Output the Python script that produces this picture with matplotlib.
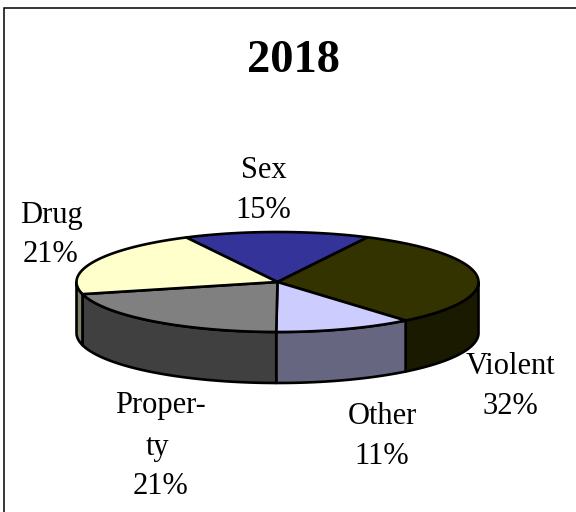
import numpy as np
import matplotlib
matplotlib.use("Agg")
import matplotlib.pyplot as plt
from matplotlib.patches import Polygon, Rectangle

title = "2018"
categories = ["Sex", "Violent", "Other", "Property", "Drug"]
values = [14.9, 31.6, 11.1, 21.0, 21.4]
label_lines = [["Sex", "15%"], ["Violent", "32%"], ["Other", "11%"], ["Proper-", "ty", "21%"], ["Drug", "21%"]]
top_colors = ["#333399", "#333300", "#CCCCFF", "#808080", "#FFFFCC"]
side_colors = ["#1A1A4D", "#1A1A00", "#666680", "#404040", "#808066"]
label_pos = [[(264, 171), (263, 211)], [(510, 367), (510, 407)], [(382, 416), (382, 457)],
             [(160, 405), (158, 447), (160, 487)], [(51, 215), (50, 254)]]

plt.rcParams['font.family'] = ['Liberation Serif', 'DejaVu Serif']
fig = plt.figure(figsize=(5.76, 5.12), dpi=100, facecolor="white")
ax = fig.add_axes([0, 0, 1, 1])
ax.set_xlim(0, 576)
ax.set_ylim(512, 0)
ax.axis("off")

# chart frame: its right and bottom edges lie outside the picture
ax.add_patch(Rectangle((4, 7.5), 600, 540, fc="white", ec="black", lw=1.1, clip_on=True))

cx, cy, rx, ry, depth = 277.5, 282, 201, 50, 51
start = -27.0


def rim(a, b):
    t = np.radians(np.linspace(a, b, max(2, int(abs(b - a)) + 2)))
    return cx + rx * np.sin(t), cy - ry * np.cos(t)


edges = start + np.concatenate([[0], np.cumsum(values)]) * 3.6
lw = 1.9
# side walls of the slices facing the viewer
for a, b, c in zip(edges[:-1], edges[1:], side_colors):
    lo, hi = max(a, 90), min(b, 270)
    if lo < hi:
        x, y = rim(lo, hi)
        pts = np.r_[np.c_[x, y], np.c_[x[::-1], y[::-1] + depth]]
        ax.add_patch(Polygon(pts, closed=True, fc=c, ec="black", lw=lw, joinstyle="round"))
# top faces
for a, b, c in zip(edges[:-1], edges[1:], top_colors):
    x, y = rim(a, b)
    pts = np.r_[[[cx, cy]], np.c_[x, y]]
    ax.add_patch(Polygon(pts, closed=True, fc=c, ec="black", lw=lw, joinstyle="round"))

ax.text(293, 61, title, fontsize=33.5, fontweight="bold", ha="center", va="center", color="black")
for lines, positions in zip(label_lines, label_pos):
    for s, (x, y) in zip(lines, positions):
        ax.text(x, y, s, fontsize=22, ha="center", va="center", color="black")

fig.savefig("out.png", dpi=100)
